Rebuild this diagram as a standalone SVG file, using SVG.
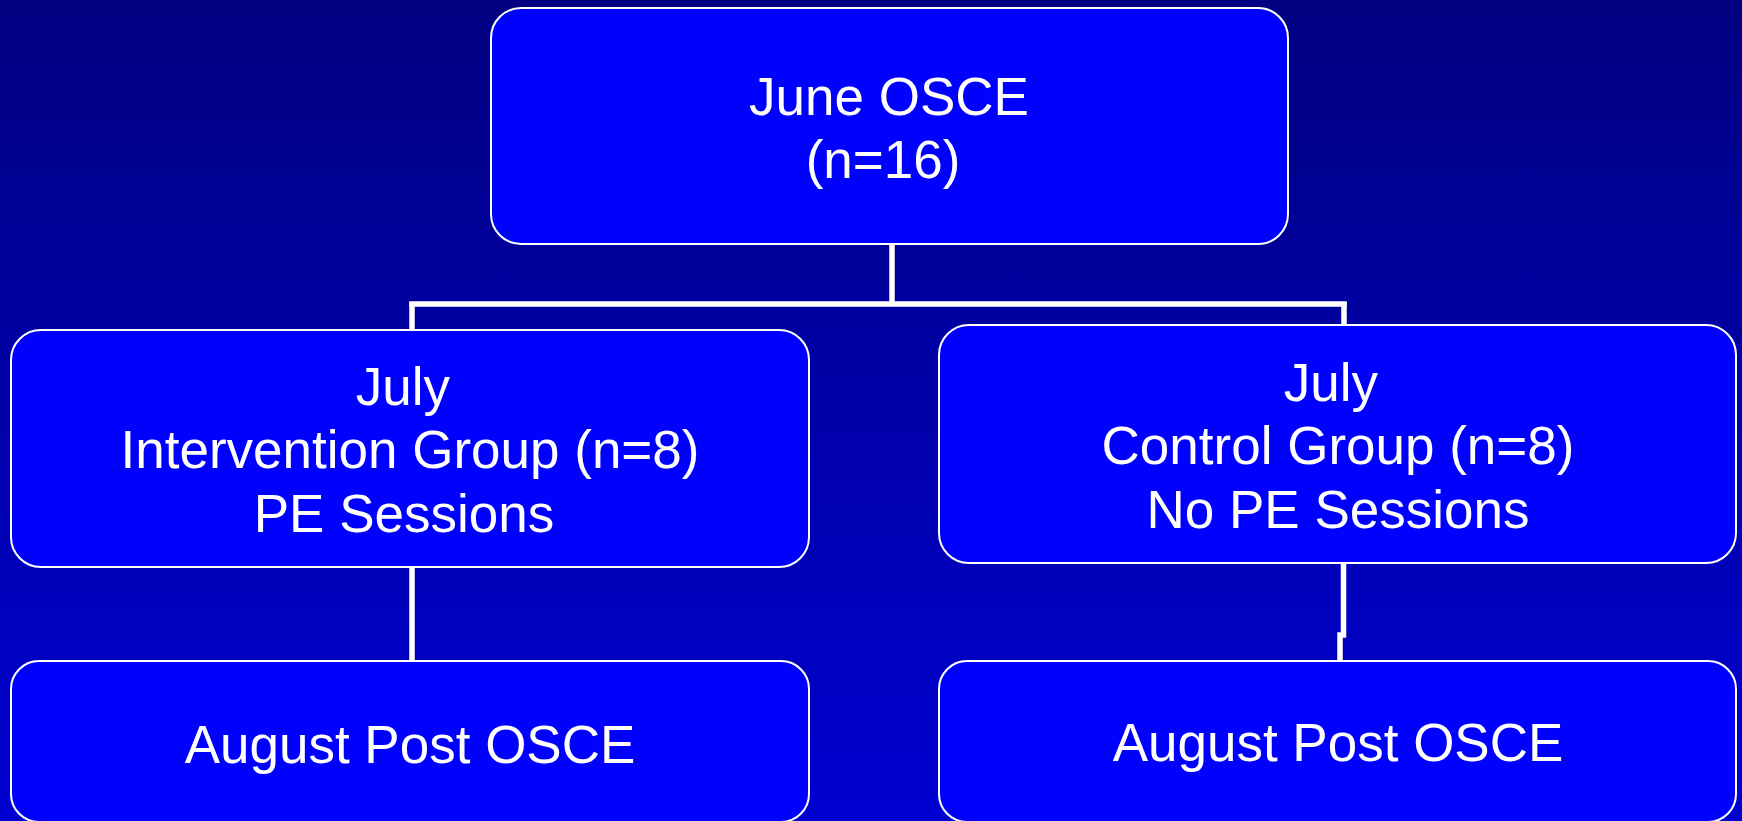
<svg xmlns="http://www.w3.org/2000/svg" width="1742" height="821" viewBox="0 0 1742 821">
<defs>
<linearGradient id="bg" x1="0" y1="0" x2="0" y2="1">
<stop offset="0" stop-color="#000080"/>
<stop offset="1" stop-color="#0000D2"/>
</linearGradient>
<style>
.box{fill:#0000FF;stroke:#FFFFFF;stroke-width:2}
.lbl{font-family:"Liberation Sans",Arial,sans-serif;font-size:53px;fill:#FFFFFF;text-anchor:middle}
.con{stroke:#FFFFFF;stroke-width:5.5;fill:none}
</style>
</defs>
<rect x="0" y="0" width="1742" height="821" fill="url(#bg)"/>
<g id="connectors">
<line class="con" x1="892" y1="244" x2="892" y2="306"/>
<line class="con" x1="409.25" y1="304" x2="1346.75" y2="304"/>
<line class="con" x1="412" y1="302" x2="412" y2="330"/>
<line class="con" x1="1344" y1="302" x2="1344" y2="325"/>
<line class="con" x1="412" y1="567" x2="412" y2="661"/>
<polyline class="con" points="1343.5,563 1343.5,635 1340,635 1340,660"/>
</g>
<g id="june">
<rect class="box" x="491" y="8" width="797" height="236" rx="30"/>
<text class="lbl" x="889" y="115">June OSCE</text>
<text class="lbl" x="883" y="178">(n=16)</text>
</g>
<g id="intervention">
<rect class="box" x="11" y="330" width="798" height="237" rx="30"/>
<text class="lbl" x="403" y="405">July</text>
<text class="lbl" x="410" y="468">Intervention Group (n=8)</text>
<text class="lbl" x="404" y="532">PE Sessions</text>
</g>
<g id="control">
<rect class="box" x="939" y="325" width="797" height="238" rx="30"/>
<text class="lbl" x="1331" y="401">July</text>
<text class="lbl" x="1338" y="464">Control Group (n=8)</text>
<text class="lbl" x="1338" y="528">No PE Sessions</text>
</g>
<g id="august-left">
<rect class="box" x="11" y="661" width="798" height="161" rx="28"/>
<text class="lbl" x="410" y="763">August Post OSCE</text>
</g>
<g id="august-right">
<rect class="box" x="939" y="661" width="797" height="161" rx="28"/>
<text class="lbl" x="1338" y="761">August Post OSCE</text>
</g>
</svg>
